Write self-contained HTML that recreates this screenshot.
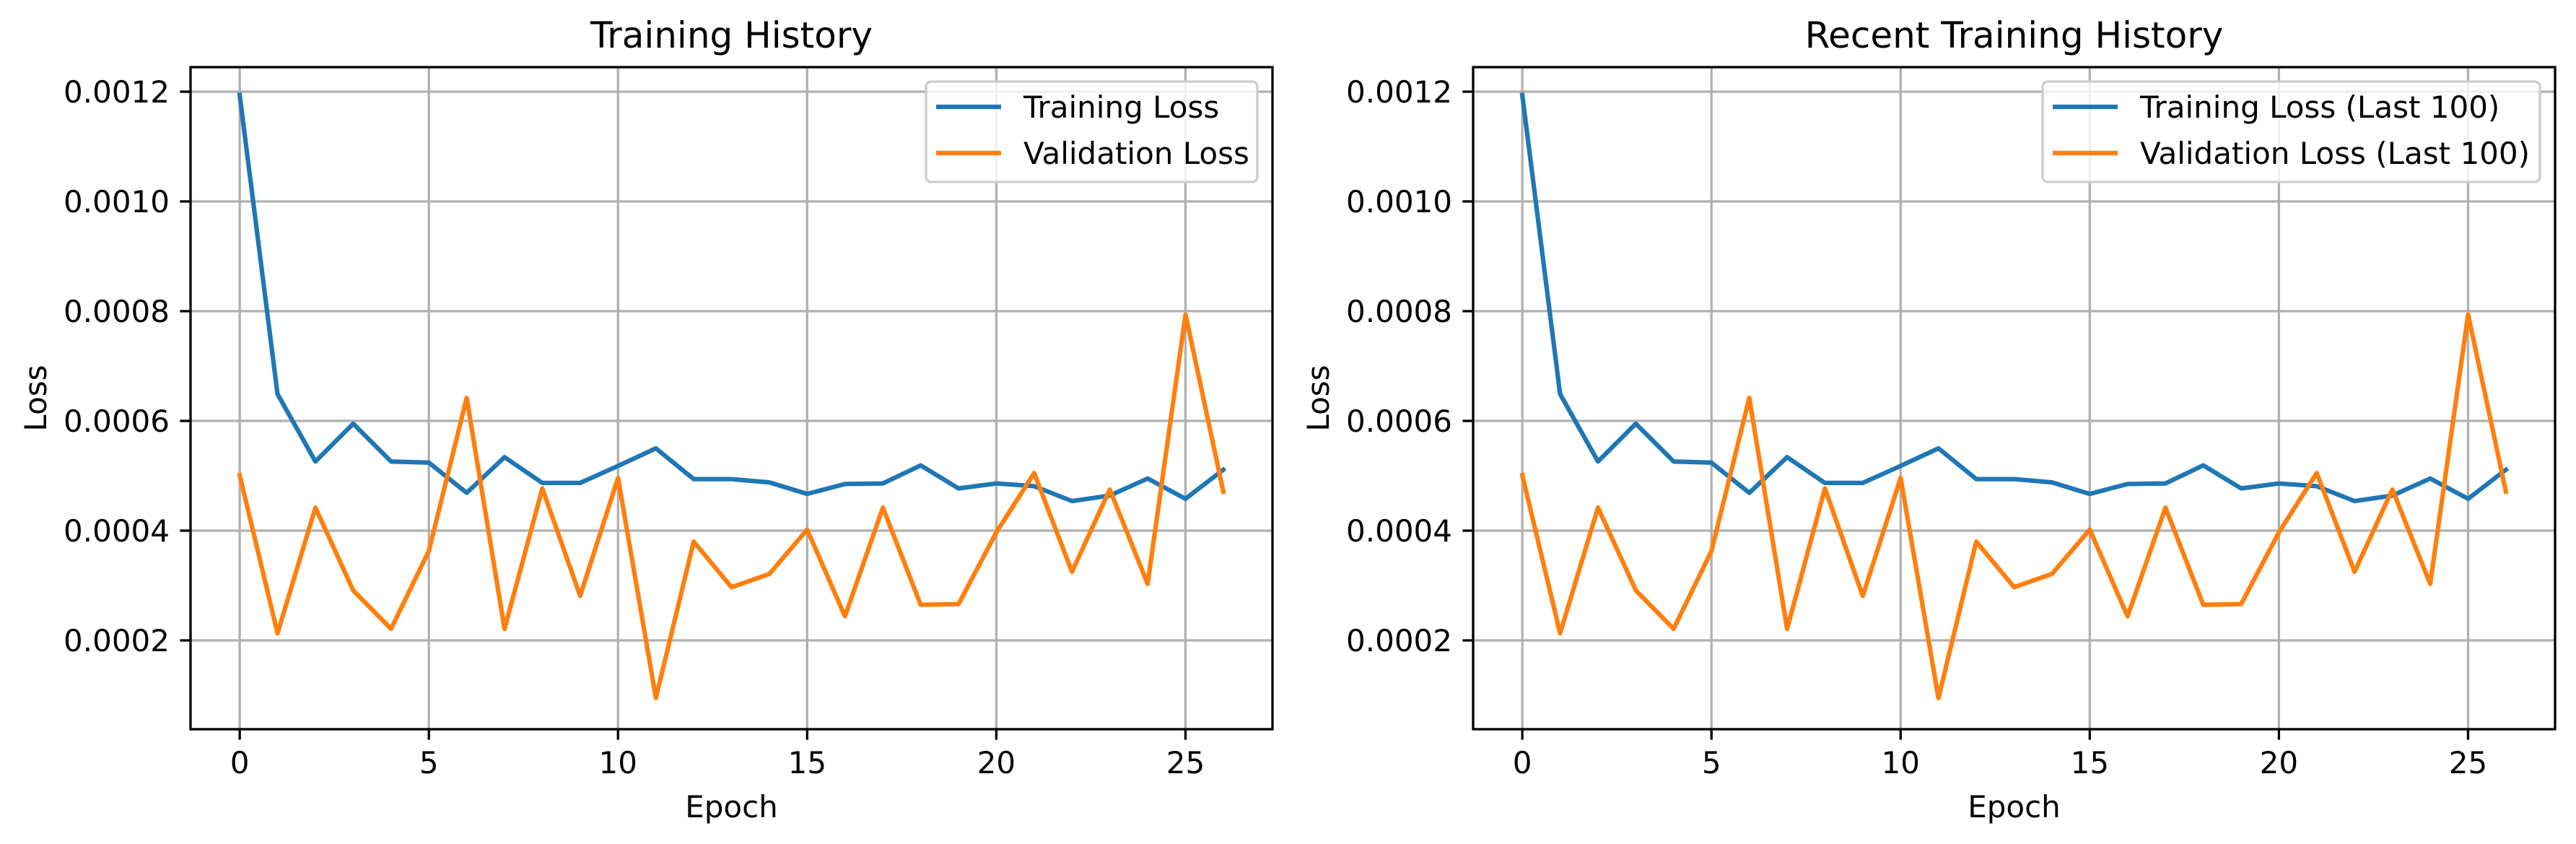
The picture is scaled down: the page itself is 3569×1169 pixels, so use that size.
<!DOCTYPE html>
<html><head><meta charset="utf-8"><style>
html,body{margin:0;padding:0;background:#fff}
svg{display:block;font-family:"DejaVu Sans","Liberation Sans",sans-serif}
</style></head><body>
<svg id="chart" width="3569" height="1169" viewBox="0 0 3569 1169" xmlns="http://www.w3.org/2000/svg"></svg>
<script>
const epochs = [0,1,2,3,4,5,6,7,8,9,10,11,12,13,14,15,16,17,18,19,20,21,22,23,24,25,26];
const trainLoss = [0.001194,0.000649,0.000526,0.000595,0.000526,0.000524,0.000469,0.000534,0.000487,0.000487,0.000518,0.00055,0.000494,0.000494,0.000488,0.000467,0.000485,0.000486,0.000519,0.000477,0.000486,0.000481,0.000454,0.000464,0.000495,0.000458,0.000511];
const valLoss = [0.000501,0.000213,0.000442,0.000291,0.000221,0.000363,0.000642,0.000221,0.000477,0.000281,0.000496,0.000095,0.00038,0.000297,0.000321,0.000402,0.000244,0.000442,0.000265,0.000266,0.000397,0.000505,0.000325,0.000475,0.000303,0.000794,0.000471];
const xTicks = [0,5,10,15,20,25];
const yTicks = [0.0002,0.0004,0.0006,0.0008,0.0010,0.0012];
const yTickLabels = ["0.0002","0.0004","0.0006","0.0008","0.0010","0.0012"];
const panelTitles = ["Training History","Recent Training History"];
const legendLabels = [["Training Loss","Validation Loss"],["Training Loss (Last 100)","Validation Loss (Last 100)"]];

const NS="http://www.w3.org/2000/svg";
const svg=document.getElementById('chart');
function mk(tag,attrs,parent){const e=document.createElementNS(NS,tag);for(const k in attrs)e.setAttribute(k,attrs[k]);(parent||svg).appendChild(e);return e;}

const panels=[{L:264,R:1763,key:'left'},{L:2041,R:3540,key:'right'}];
const T=93,B=1010;
const xmin=-1.3,xmax=27.3;
function yS(v){return 887+(0.0002-v)/0.0002*152;}

panels.forEach((p,pi)=>{
  const g=mk('g',{});
  
  
  const xS=v=>p.L+(v-xmin)/(xmax-xmin)*(p.R-p.L);
  xTicks.forEach(t=>{
    const l=mk('line',{x1:xS(t),x2:xS(t),y1:T,y2:B,stroke:'#b0b0b0','stroke-width':3.3},g);
    
    
    const tk=mk('line',{x1:xS(t),x2:xS(t),y1:B,y2:B+14.6,stroke:'#000','stroke-width':3.3},g);
    
    
    const tx=mk('text',{x:xS(t),y:1071,'font-size':42,'text-anchor':'middle',fill:'#000'},g);
    tx.textContent=t;
    
    
  });
  yTicks.forEach((t,i)=>{
    const y=yS(t);
    const l=mk('line',{x1:p.L,x2:p.R,y1:y,y2:y,stroke:'#b0b0b0','stroke-width':3.3},g);
    
    
    const tk=mk('line',{x1:p.L-14.6,x2:p.L,y1:y,y2:y,stroke:'#000','stroke-width':3.3},g);
    
    
    const tx=mk('text',{x:p.L-29,y:y+15,'font-size':42,'text-anchor':'end',fill:'#000'},g);
    tx.textContent=yTickLabels[i];
    
    
  });
  const clip=mk('clipPath',{id:'clip'+pi},g);
  mk('rect',{x:p.L,y:T,width:p.R-p.L,height:B-T},clip);
  const series=[[trainLoss,'#1f77b4','training-loss-line'],[valLoss,'#ff7f0e','validation-loss-line']];
  series.forEach(s=>{
    const pts=epochs.map((e,i)=>xS(e).toFixed(1)+','+yS(s[0][i]).toFixed(1)).join(' ');
    const pl=mk('polyline',{points:pts,fill:'none',stroke:s[1],'stroke-width':6.25,'stroke-linejoin':'round','stroke-linecap':'square','clip-path':'url(#clip'+pi+')'},g);
    
    
  });
  const fr=mk('rect',{x:p.L,y:T,width:p.R-p.L,height:B-T,fill:'none',stroke:'#000','stroke-width':3.3},g);
  
  
  const tt=mk('text',{x:(p.L+p.R)/2,y:66,'font-size':50,'text-anchor':'middle',fill:'#000'},g);
  tt.textContent=panelTitles[pi];
  
  
  const xl=mk('text',{x:(p.L+p.R)/2,y:1132,'font-size':42,'text-anchor':'middle',fill:'#000'},g);
  xl.textContent='Epoch';
  
  
  const ylx=p.L-200;
  const yl=mk('text',{x:ylx,y:(T+B)/2,'font-size':42,'text-anchor':'middle',fill:'#000',transform:'rotate(-90 '+ylx+' '+(T+B)/2+')'},g);
  yl.textContent='Loss';
  
  
  const lg=mk('g',{},g);
  
  
  const lw=pi===0?459:689;
  const lx=p.R-21-lw;
  mk('rect',{x:lx,y:113,width:lw,height:139,rx:7,fill:'#fff','fill-opacity':0.8,stroke:'#cccccc','stroke-width':3.3},lg);
  [['#1f77b4',148],['#ff7f0e',212]].forEach((c,i)=>{
    const ent=mk('g',{},lg);
    
    
    mk('line',{x1:lx+14,x2:lx+104,y1:c[1],y2:c[1],stroke:c[0],'stroke-width':6.25},ent);
    const t=mk('text',{x:lx+135,y:c[1]+15,'font-size':42,fill:'#000'},ent);
    t.textContent=legendLabels[pi][i];
  });
});
</script>
</body></html>
